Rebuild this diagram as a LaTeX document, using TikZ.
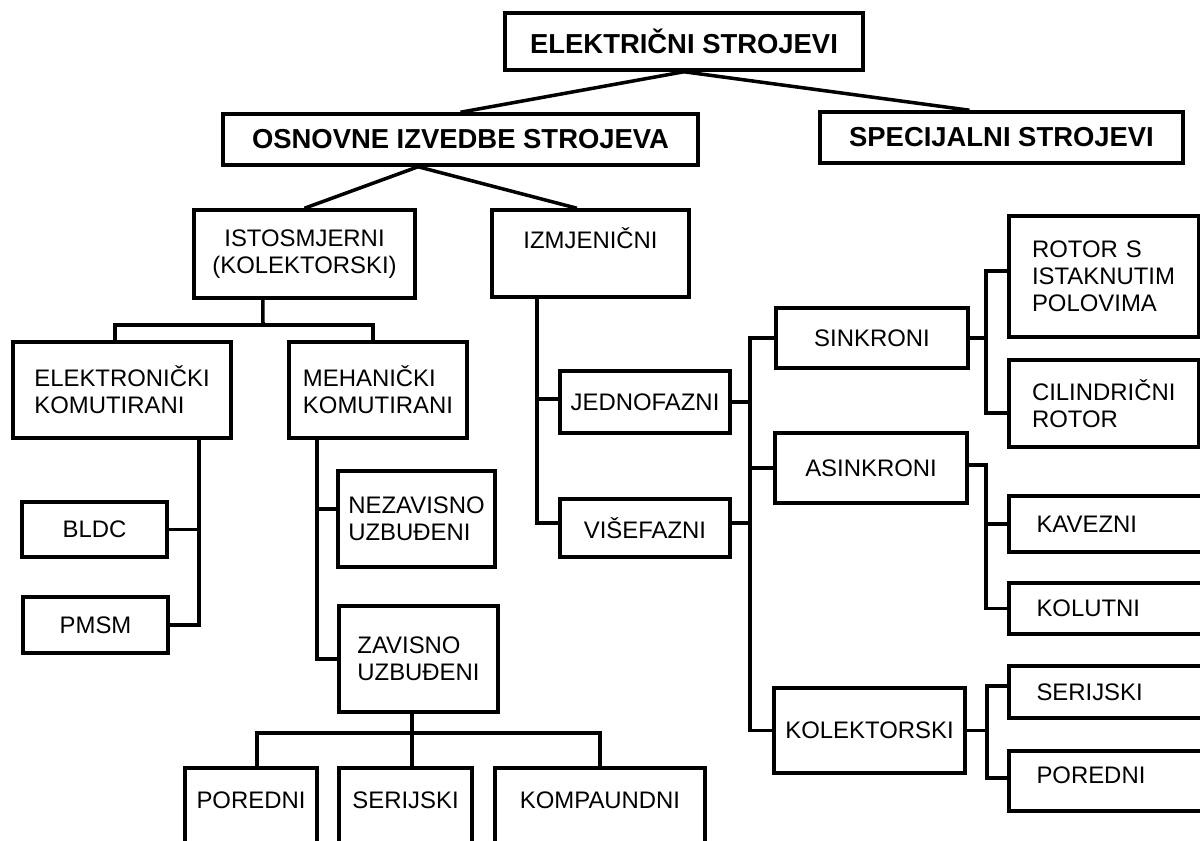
\documentclass[tikz,border=0pt]{standalone}
\usepackage{fontspec}
\setmainfont{Liberation Sans}
\tikzset{
  unit/.style={draw, line width=2.5pt, inner sep=0pt, align=left,
    font=\fontsize{17}{19.2}\selectfont},
  head/.style={unit, font=\fontsize{19.5}{22}\selectfont\bfseries},
  wh/.style 2 args={minimum width=#1*0.025cm, minimum height=#2*0.025cm},
  wire/.style={line width=2.5pt},
}
\begin{document}
\begin{tikzpicture}[x=0.025cm, y=-0.025cm]
  \path[use as bounding box, fill=white] (0,0) rectangle (1200,840);

  % Top levels
  \node[head, wh={358}{57}] (elstroj) at (684,41.5) {ELEKTRIČNI STROJEVI};
  \node[head, wh={475}{51}] (osnovne) at (460.5,139.5) {OSNOVNE IZVEDBE STROJEVA};
  \node[head, wh={363}{51}] (specijal) at (1001.5,137.5) {SPECIJALNI STROJEVI};

  % DC machines
  \node[unit, wh={221}{88}, align=center] (istosm) at (304.5,254) {ISTOSMJERNI\\(KOLEKTORSKI)};
  \node[unit, wh={218}{96}] (elkom) at (122,390) {ELEKTRONIČKI\\KOMUTIRANI};
  \node[unit, wh={178}{96}] (mehkom) at (378,390) {MEHANIČKI\\KOMUTIRANI};
  \node[unit, wh={145}{55}] (bldc) at (94.5,529.5) {BLDC};
  \node[unit, wh={145}{56}] (pmsm) at (95.5,625) {PMSM};
  \node[unit, wh={157}{96}] (nezav) at (416.5,519) {NEZAVISNO\\UZBUĐENI};
  \node[unit, wh={159}{106}] (zavis) at (418.5,659) {ZAVISNO\\UZBUĐENI};
  \node[unit, wh={132}{80}, text depth=0.4cm] (poredni) at (251,808) {POREDNI};
  \node[unit, wh={133}{80}, text depth=0.4cm] (serijski) at (405.5,808) {SERIJSKI};
  \node[unit, wh={210}{80}, text depth=0.4cm] (kompaund) at (600,808) {KOMPAUNDNI};

  % AC machines
  \node[unit, wh={197}{87}, text depth=0.78cm] (izmjen) at (590.5,253.5) {IZMJENIČNI};
  \node[unit, wh={170}{62}] (jednof) at (645,402) {JEDNOFAZNI};
  \node[unit, wh={170}{58}] (visef) at (645,528) {VIŠEFAZNI};
  \node[unit, wh={192}{60}] (sinkr) at (872,338) {SINKRONI};
  \node[unit, wh={192}{70}] (asinkr) at (871,468) {ASINKRONI};
  \node[unit, wh={191}{85}] (kolekt) at (869.5,730.5) {KOLEKTORSKI};
  \node[unit, wh={190}{121}, text width=3.6cm] (rotors) at (1104,276.5) {ROTOR S\\ISTAKNUTIM\\POLOVIMA};
  \node[unit, wh={190}{87}, text width=3.6cm] (cilind) at (1104,403.5) {CILINDRIČNI\\ROTOR};
  \node[unit, wh={199}{56}, text width=3.6cm] (kavez) at (1108.5,524) {KAVEZNI};
  \node[unit, wh={199}{51}, text width=3.6cm] (kolut) at (1108.5,608.5) {KOLUTNI};
  \node[unit, wh={199}{52}, text width=3.6cm] (serij) at (1108.5,692) {SERIJSKI};
  \node[unit, wh={199}{60}, text width=3.6cm, text depth=0.3cm] (pored) at (1108.5,781) {POREDNI};

  % Coordinates of the buses
  \coordinate (dcbus) at (263,325);
  \coordinate (elkdn) at ([xshift=1.925cm]elkom.south);
  \coordinate (mehdn) at ([xshift=-1.525cm]mehkom.south);
  \coordinate (zavbus) at (412,733);
  \coordinate (izmdn) at ([xshift=-1.34cm]izmjen.south);
  \coordinate (acbus) at ([xshift=0.45cm]jednof.east);
  \coordinate (sinbus) at ([xshift=0.4cm]sinkr.east);
  \coordinate (asinbus) at ([xshift=0.425cm]asinkr.east);
  \coordinate (kolbus) at ([xshift=0.5cm]kolekt.east);

  % connecting the top levels
  \draw[wire] (elstroj.south) -- (osnovne.north);
  \draw[wire] (elstroj.south) -- ([xshift=-0.8cm]specijal.north);
  \draw[wire] ([xshift=-1.06cm]osnovne.south) -- (istosm.north);
  \draw[wire] ([xshift=-1.06cm]osnovne.south) -- ([xshift=-0.34cm]izmjen.north);

  % connecting the DC side
  \draw[wire] ([xshift=-1.04cm]istosm.south) -- (dcbus);
  \draw[wire] ([xshift=-0.18cm]elkom.north) |- (dcbus) -| ([xshift=-0.12cm]mehkom.north);
  \draw[wire] (elkdn) |- (pmsm.east);
  \draw[wire] (bldc.east) -| (elkdn);
  \draw[wire] (mehdn) |- (zavis.west);
  \draw[wire] ([yshift=0.25cm]nezav.west) -| (mehdn);
  \draw[wire] (zavbus |- zavis.south) -- (zavbus |- serijski.north);
  \draw[wire] ([xshift=0.15cm]poredni.north) |- (zavbus) -| (kompaund.north);

  % connecting the AC side
  \draw[wire] (izmdn) |- ([yshift=0.12cm]visef.west);
  \draw[wire] ([yshift=0.07cm]jednof.west) -| (izmdn);
  \draw[wire] (jednof.east) -- (acbus);
  \draw[wire] (sinkr.west) -| (acbus) |- (kolekt.west);
  \draw[wire] ([yshift=0.12cm]visef.east) -| (acbus);
  \draw[wire] (asinkr.west) -| (acbus);
  \draw[wire] (sinkr.east) -- (sinbus);
  \draw[wire] ([yshift=0.14cm]rotors.west) -| (sinbus) |- ([yshift=-0.24cm]cilind.west);
  \draw[wire] ([yshift=0.075cm]asinkr.east) -- ([yshift=0.075cm]asinbus) |- (kolut.west);
  \draw[wire] (kavez.west) -| (asinbus);
  \draw[wire] (kolekt.east) -- (kolbus);
  \draw[wire] ([yshift=0.15cm]serij.west) -| (kolbus) |- ([yshift=0.075cm]pored.west);
\end{tikzpicture}
\end{document}
